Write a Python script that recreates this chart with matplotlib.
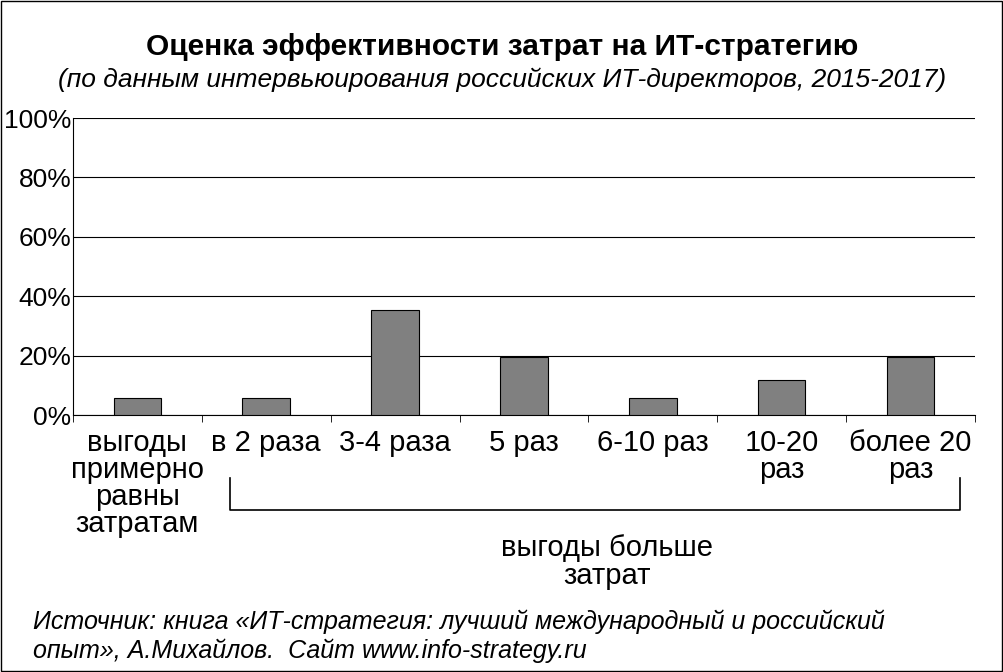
import matplotlib
matplotlib.use("Agg")
import matplotlib.pyplot as plt
import numpy as np

categories = ["выгоды\nпримерно\nравны\nзатратам", "в 2 раза", "3-4 раза", "5 раз", "6-10 раз", "10-20\nраз", "более 20\nраз"]
values = [5.7, 5.7, 35.4, 19.5, 5.7, 11.8, 19.5]
yticks = [0, 20, 40, 60, 80, 100]

plt.rcParams["font.family"] = "Liberation Sans"
fig = plt.figure(figsize=(10.04, 6.72), dpi=100)
ax = fig.add_axes([0.0727, 0.3824, 0.8983, 0.442])
x = np.arange(len(categories))
ax.bar(x, values, width=0.37, color="#808080", edgecolor="black", linewidth=0.8, zorder=3)
ax.set_xlim(-0.5, len(categories) - 0.5)
ax.set_ylim(0, 100)
ax.set_yticks(yticks)
ax.set_yticklabels([f"{v}%" for v in yticks], fontsize=19)
ax.yaxis.grid(True, color="black", linewidth=0.8)
ax.set_axisbelow(True)
for s in ["top", "right"]:
    ax.spines[s].set_visible(False)
ax.set_xticks(x)
ax.set_xticklabels(categories, fontsize=21, va="top", linespacing=0.95)
ax.tick_params(axis="x", length=0, pad=10)
ax.set_xticks(np.arange(-0.5, len(categories)), minor=True)
ax.tick_params(axis="x", which="minor", length=5, direction="out")
ax.tick_params(axis="y", length=0, pad=1)

fig.text(0.5, 1 - 47/672, "Оценка эффективности затрат на ИТ-стратегию", ha="center", va="center", fontsize=21.5, fontweight="bold")
fig.text(0.5, 1 - 80/672, "(по данным интервьюирования российских ИТ-директоров, 2015-2017)", ha="center", va="center", fontsize=19, style="italic")

# bracket
y1, y2 = 1 - 478/672, 1 - 510/672
xl, xr = 230/1004, 960/1004
fig.add_artist(plt.Line2D([xl, xl, xr, xr], [y1, y2, y2, y1], color="black", linewidth=1.2))
fig.text(0.605, 1 - 562/672, "выгоды больше\nзатрат", ha="center", va="center", fontsize=21, linespacing=1.0)

fig.text(0.033, 1 - 622/672, "Источник: книга «ИТ-стратегия: лучший международный и российский", fontsize=18, style="italic", va="center")
fig.text(0.033, 1 - 651/672, "опыт», А.Михайлов.  Сайт www.info-strategy.ru", fontsize=18, style="italic", va="center")

fig.add_artist(plt.Rectangle((0.001, 0.001), 0.997, 0.997, fill=False, edgecolor="black", linewidth=1, transform=fig.transFigure))
fig.savefig("out.png", dpi=100)
